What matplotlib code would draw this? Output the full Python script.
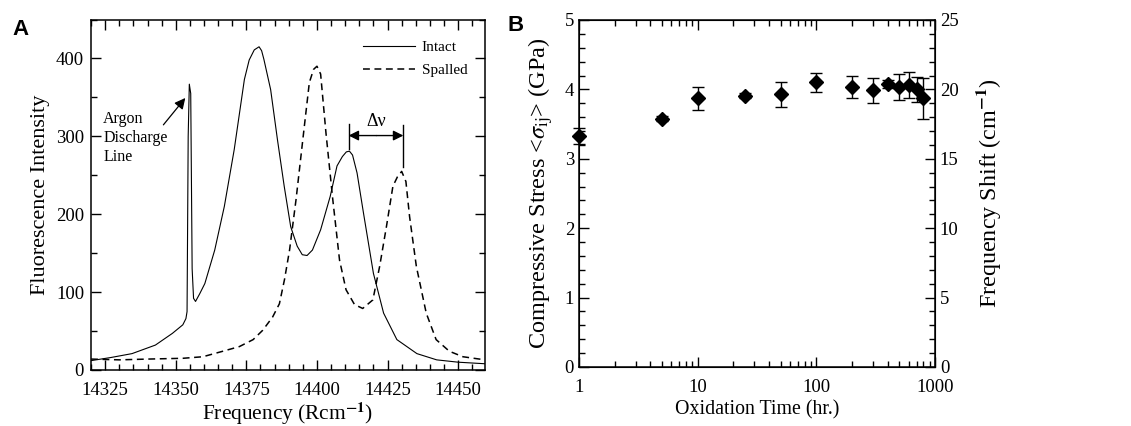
import matplotlib
matplotlib.use("Agg")
import matplotlib.pyplot as plt
from matplotlib.ticker import MultipleLocator, FixedLocator, FixedFormatter, LogLocator, NullFormatter

plt.rcParams['font.family'] = ['Liberation Serif', 'DejaVu Serif']
plt.rcParams['mathtext.fontset'] = 'stix'

# ---------------- Panel A data ----------------
intact_freq = [14320, 14327, 14334.5, 14342.8, 14348.8, 14352.5, 14353.6, 14354.0, 14354.4,
               14354.8, 14355.3, 14355.8, 14356.3, 14357.0, 14358.5, 14360.3, 14363.8, 14367.2,
               14370.7, 14374.3, 14376.0, 14377.8, 14379.5, 14380.4, 14381.2, 14383.6, 14386.0,
               14388.4, 14390.7, 14393.0, 14394.8, 14396.5, 14398.4, 14401.3, 14404.7, 14407.1,
               14409.0, 14410.4, 14411.5, 14412.6, 14414.2, 14416.5, 14420.0, 14423.6, 14428.3,
               14435.4, 14442.4, 14450.0, 14459.5]
intact_int = [12, 16, 21, 32, 47, 58, 66, 75, 300,
              367, 355, 130, 92, 88, 98, 111, 154, 210,
              283, 373, 398, 411, 415, 410, 399, 360, 296,
              236, 184, 159, 148, 147, 154, 180, 223, 262,
              274, 280, 281, 276, 253, 201, 124, 73, 39,
              21, 13, 10, 8]

spalled_freq = [14320, 14330, 14340, 14352.5, 14359.6, 14366.6, 14372.5, 14377.4, 14380.8,
                14384.3, 14386.7, 14388.5, 14390.3, 14392.6, 14395.0, 14397.3, 14398.8, 14400.0,
                14401.3, 14403.2, 14405.6, 14408.0, 14410.3, 14413.3, 14416.2, 14419.8, 14422.2,
                14424.6, 14426.9, 14428.5, 14430.0, 14431.5, 14432.8, 14435.2, 14438.7, 14442.2,
                14446.9, 14451.7, 14459.5]
spalled_int = [14, 13, 14, 15, 17, 24, 30, 39, 51,
               68, 85, 116, 154, 219, 296, 369, 386, 390,
               380, 304, 219, 141, 103, 84, 79, 90, 133,
               184, 236, 248, 255, 242, 197, 133, 73, 39,
               24, 17, 13]

# ---------------- Panel B data ----------------
ox_time = [1, 5, 10, 25, 50, 100, 200, 300, 400, 500, 600, 700, 800]
stress = [3.33, 3.58, 3.87, 3.91, 3.93, 4.10, 4.03, 3.99, 4.08, 4.03, 4.06, 4.00, 3.87]
stress_err = [0.12, 0.03, 0.17, 0.04, 0.18, 0.14, 0.16, 0.18, 0.06, 0.19, 0.19, 0.18, 0.30]

fig = plt.figure(figsize=(11.31, 4.26), dpi=100)

# ---------------- Panel A ----------------
axA = fig.add_axes([0.0805, 0.1315, 0.3483, 0.8227])
axA.plot(intact_freq, intact_int, color='black', lw=0.8, ls='-', label='Intact')
axA.plot(spalled_freq, spalled_int, color='black', lw=1.1, ls=(0, (4.5, 3)), label='Spalled')
axA.set_xlim(14320, 14459.5)
axA.set_ylim(0, 450)
axA.xaxis.set_major_locator(FixedLocator([14325, 14350, 14375, 14400, 14425, 14450]))
axA.xaxis.set_minor_locator(MultipleLocator(5))
axA.yaxis.set_major_locator(MultipleLocator(100))
axA.yaxis.set_minor_locator(MultipleLocator(50))
axA.tick_params(which='both', direction='in', top=True, right=True, labelsize=13.5, width=1)
axA.tick_params(which='major', length=7)
axA.tick_params(which='minor', length=4)
axA.tick_params(axis='x', pad=9)
axA.tick_params(axis='y', pad=5)
axA.set_xlabel(r'Frequency (Rcm$^{\mathbf{-1}}$)', fontsize=15.4, labelpad=1)
axA.set_ylabel('Fluorescence Intensity', fontsize=16, labelpad=4)
for s in axA.spines.values():
    s.set_linewidth(1.1)

leg = axA.legend(loc='upper left', bbox_to_anchor=(0.69, 0.94), frameon=False, fontsize=11,
                 handlelength=3.4, handletextpad=0.45, labelspacing=0.6, borderpad=0,
                 borderaxespad=0)

axA.text(14324.3, 298, 'Argon\nDischarge\nLine', fontsize=11.5, ha='left', va='center',
         linespacing=1.25)
axA.annotate('', xy=(14354.0, 352), xytext=(14345.0, 312),
             arrowprops=dict(arrowstyle='-|>', color='black', lw=0.9, mutation_scale=16))

# delta-nu marker
axA.plot([14411.2, 14411.2], [284, 316], color='black', lw=1)
axA.plot([14430.6, 14430.6], [260, 315], color='black', lw=1)
axA.annotate('', xy=(14411.2, 301), xytext=(14421, 301),
             arrowprops=dict(arrowstyle='-|>', color='black', lw=1, mutation_scale=15,
                             shrinkA=0, shrinkB=0))
axA.annotate('', xy=(14430.6, 301), xytext=(14421, 301),
             arrowprops=dict(arrowstyle='-|>', color='black', lw=1, mutation_scale=15,
                             shrinkA=0, shrinkB=0))
axA.text(14421, 308, 'Δν', fontsize=13, ha='center', va='bottom')

fig.text(0.011, 0.955, 'A', fontsize=16, fontweight='bold', family='Liberation Sans',
         ha='left', va='top')

# ---------------- Panel B ----------------
axB = fig.add_axes([0.5119, 0.1385, 0.3148, 0.8146])
axB.errorbar(ox_time, stress, yerr=stress_err, fmt='D', color='black', ms=7,
             ecolor='black', elinewidth=1, capsize=4, capthick=1, clip_on=False, zorder=3)
axB.set_xscale('log')
axB.set_xlim(1, 1000)
axB.set_ylim(0, 5)
axB.xaxis.set_major_locator(FixedLocator([1, 10, 100, 1000]))
axB.xaxis.set_major_formatter(FixedFormatter(['1', '10', '100', '1000']))
axB.xaxis.set_minor_locator(LogLocator(base=10, subs=range(2, 10)))
axB.xaxis.set_minor_formatter(NullFormatter())
axB.yaxis.set_major_locator(MultipleLocator(1))
axB.yaxis.set_minor_locator(MultipleLocator(0.2))
axB.tick_params(which='both', direction='in', top=True, right=False, labelsize=13.5, width=1)
axB.tick_params(which='major', length=7)
axB.tick_params(which='minor', length=4)
axB.tick_params(axis='x', pad=9)
axB.set_xlabel('Oxidation Time (hr.)', fontsize=14.3, labelpad=3)
axB.set_ylabel(r'Compressive Stress <$\sigma_{\mathrm{ij}}$> (GPa)', fontsize=17.5, labelpad=7)
for s in axB.spines.values():
    s.set_linewidth(1.1)

axB2 = axB.twinx()
axB2.set_ylim(0, 25)
axB2.yaxis.set_major_locator(MultipleLocator(5))
axB2.yaxis.set_minor_locator(MultipleLocator(1))
axB2.tick_params(which='both', direction='in', labelsize=13.5, width=1)
axB2.tick_params(which='major', length=7)
axB2.tick_params(which='minor', length=4)
axB2.set_ylabel(r'Frequency Shift (cm$^{\mathbf{-1}}$)', fontsize=17.4, labelpad=11)

fig.text(0.449, 0.965, 'B', fontsize=16, fontweight='bold', family='Liberation Sans',
         ha='left', va='top')

fig.savefig('out.png', dpi=100)
